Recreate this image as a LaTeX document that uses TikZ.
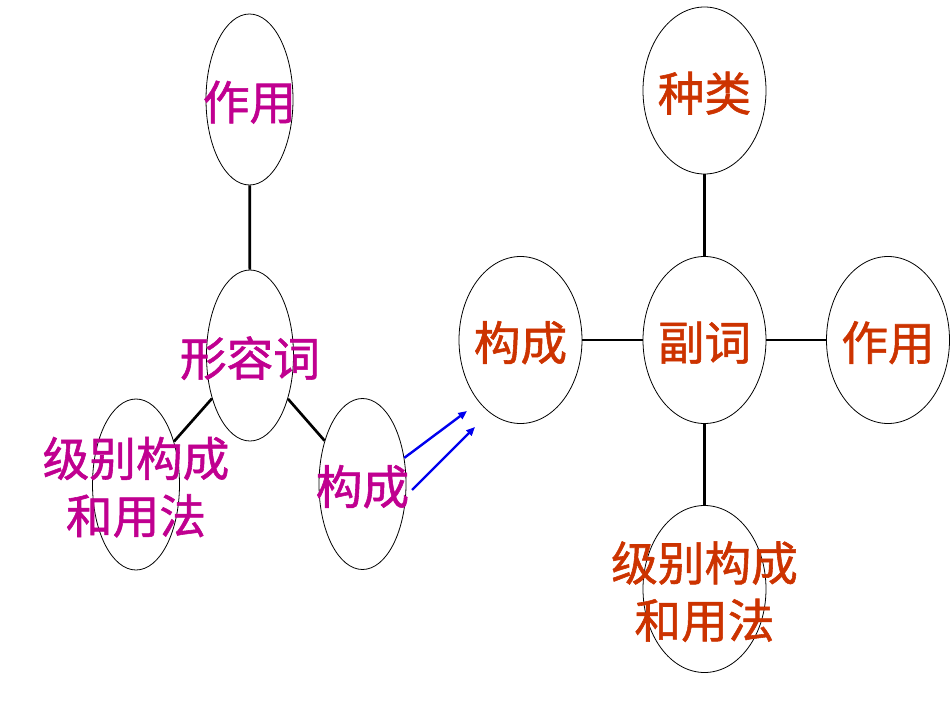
\documentclass[tikz,border=0pt]{standalone}
\usepackage{fontspec}
\setmainfont{Noto Sans CJK SC}[FakeBold=1.2]
\usepackage{xcolor}
\usetikzlibrary{shapes.geometric, arrows.meta, positioning}
\definecolor{adjcolor}{HTML}{C00090}
\definecolor{advcolor}{HTML}{CC3300}
\definecolor{jumpblue}{HTML}{0000EE}

\begin{document}
\begin{tikzpicture}[
    x=0.75pt, y=-0.75pt,
    % Node styles
    bubble/.style={ellipse, draw, line width=0.6pt, inner sep=0pt},
    adjbubble/.style={bubble, minimum width=65.25pt, minimum height=128.25pt},
    advbubble/.style={bubble, minimum width=92.25pt, minimum height=125.25pt},
    word/.style={font=\fontsize{35}{43}\selectfont, align=center, inner sep=0pt, yshift=-2pt},
    adjword/.style={word, text=adjcolor},
    advword/.style={word, text=advcolor},
    link/.style={line width=2pt},
    jump/.style={-{Triangle[length=6.5pt, width=5.5pt]}, line width=1.8pt, color=jumpblue},
]

\useasboundingbox (0, 0) rectangle (950, 713);

% ============================================================================
% LEFT: ADJECTIVE
% ============================================================================
\node[adjbubble, label={[adjword]center:作用}] (adjrole) at (249.5, 99.5) {};
\node[adjbubble, label={[adjword]center:形容词}] (adjcore) at (250, 355.5) {};
\node[adjbubble, label={[adjword]center:级别构成\\和用法}] (adjgrade) at (136, 484.5) {};
\node[adjbubble, label={[adjword]center:构成}] (adjform) at (362.5, 484) {};

\draw[link] (adjrole) -- (adjcore);
\draw[link] (adjcore) -- (adjgrade);
\draw[link] (adjcore) -- (adjform);

% ============================================================================
% RIGHT: ADVERB
% ============================================================================
\node[advbubble, label={[advword]center:种类}] (advkind) at (704.5, 90.5) {};
\node[advbubble, label={[advword]center:副词}] (advcore) at (704.5, 340) {};
\node[advbubble, label={[advword]center:构成}] (advform) at (520.5, 340) {};
\node[advbubble, label={[advword]center:作用}] (advrole) at (888, 340) {};
\node[advbubble, label={[advword]center:级别构成\\和用法}] (advgrade) at (704.5, 589) {};

\draw[link] (advkind) -- (advcore);
\draw[link] (advform) -- (advcore);
\draw[link] (advcore) -- (advrole);
\draw[link] (advcore) -- (advgrade);

% Arrows from left to right
\coordinate (tipA) at (467, 411);
\coordinate (tailB) at (412, 490);
\coordinate (tipB) at (475, 427);
\draw[jump] (adjform.32) -- (tipA);
\draw[jump] (tailB) -- (tipB);

\end{tikzpicture}
\end{document}
